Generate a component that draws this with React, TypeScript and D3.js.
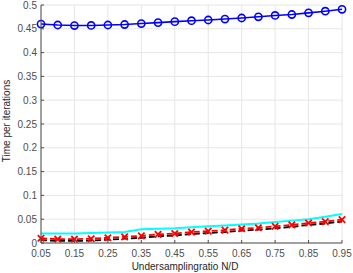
import React from "react";
import * as d3 from "d3";

const ratios = [0.05, 0.1, 0.15, 0.2, 0.25, 0.3, 0.35, 0.4, 0.45, 0.5, 0.55, 0.6, 0.65, 0.7, 0.75, 0.8, 0.85, 0.9, 0.95];
const blueSeries = [0.460, 0.458, 0.4568, 0.457, 0.458, 0.459, 0.461, 0.463, 0.465, 0.467, 0.4685, 0.4705, 0.4727, 0.4752, 0.478, 0.480, 0.4835, 0.487, 0.491];
const cyanSeries = [0.020, 0.020, 0.020, 0.021, 0.022, 0.023, 0.029, 0.030, 0.031, 0.033, 0.035, 0.037, 0.039, 0.041, 0.044, 0.047, 0.050, 0.055, 0.061];
const redSeries = [0.010, 0.008, 0.008, 0.009, 0.011, 0.013, 0.015, 0.018, 0.020, 0.023, 0.025, 0.027, 0.030, 0.032, 0.035, 0.038, 0.042, 0.045, 0.049];
const blackSeries = [0.006, 0.0045, 0.0045, 0.005, 0.007, 0.009, 0.011, 0.014, 0.016, 0.019, 0.021, 0.023, 0.026, 0.028, 0.031, 0.034, 0.038, 0.041, 0.045];
const xTicks = [0.05, 0.15, 0.25, 0.35, 0.45, 0.55, 0.65, 0.75, 0.85, 0.95];
const yTicks = [0, 0.05, 0.1, 0.15, 0.2, 0.25, 0.3, 0.35, 0.4, 0.45, 0.5];

export default function App() {
  const W = 353, H = 273;
  const x = d3.scaleLinear().domain([0.05, 0.95]).range([41, 342]);
  const y = d3.scaleLinear().domain([0, 0.5]).range([243, 5]);
  const line = (vals: number[]) =>
    d3.line<number>().x((_, i) => x(ratios[i])).y((v) => y(v))(vals) || "";
  const font = "Liberation Sans, Arial, Helvetica, sans-serif";
  const axisColor = "#4d4d4d";
  const gridColor = "#e6e6e6";
  return (
    <svg width={W} height={H} style={{ position: "absolute", left: 0, top: 0 }} fontFamily={font}>
      <rect x={0} y={0} width={W} height={H} fill="#fff" />
      {/* grid */}
      {yTicks.map((t) => (
        <line key={"gy" + t} x1={x(0.05)} x2={x(0.95)} y1={y(t)} y2={y(t)} stroke={gridColor} strokeWidth={1} />
      ))}
      {xTicks.map((t) => (
        <line key={"gx" + t} x1={x(t)} x2={x(t)} y1={y(0)} y2={y(0.5)} stroke={gridColor} strokeWidth={1} />
      ))}
      {/* series */}
      <path d={line(cyanSeries)} fill="none" stroke="#00ffff" strokeWidth={2} />
      <path d={line(blackSeries)} fill="none" stroke="#000" strokeWidth={1.8} strokeDasharray="6,3" />
      <path d={line(redSeries)} fill="none" stroke="#ff0000" strokeWidth={1.8} strokeDasharray="6,3" />
      {redSeries.map((v, i) => {
        const cx = x(ratios[i]), cy = y(v), s = 3.2;
        return (
          <g key={"rx" + i} stroke="#ff0000" strokeWidth={1.8}>
            <line x1={cx - s} y1={cy - s} x2={cx + s} y2={cy + s} />
            <line x1={cx - s} y1={cy + s} x2={cx + s} y2={cy - s} />
          </g>
        );
      })}
      <path d={line(blueSeries)} fill="none" stroke="#0000ff" strokeWidth={1.6} />
      {blueSeries.map((v, i) => (
        <circle key={"bc" + i} cx={x(ratios[i])} cy={y(v)} r={3.6} fill="none" stroke="#0000ff" strokeWidth={1.6} />
      ))}
      {/* axes */}
      <line x1={x(0.05)} x2={x(0.05)} y1={y(0)} y2={y(0.5)} stroke={axisColor} strokeWidth={1} />
      <line x1={x(0.05)} x2={x(0.95)} y1={y(0)} y2={y(0)} stroke={axisColor} strokeWidth={1} />
      {yTicks.map((t) => (
        <g key={"ty" + t}>
          <line x1={x(0.05)} x2={x(0.05) + 3} y1={y(t)} y2={y(t)} stroke={axisColor} />
          <text x={x(0.05) - 4} y={y(t)} dy="0.35em" textAnchor="end" fontSize={10} fill={axisColor}>
            {t === 0 ? "0" : String(t)}
          </text>
        </g>
      ))}
      {xTicks.map((t) => (
        <g key={"tx" + t}>
          <line x1={x(t)} x2={x(t)} y1={y(0)} y2={y(0) - 3} stroke={axisColor} />
          <text x={x(t)} y={257} textAnchor="middle" fontSize={10} fill={axisColor}>
            {t.toFixed(2)}
          </text>
        </g>
      ))}
      <text x={185} y={270} textAnchor="middle" fontSize={10} fill="#262626">
        Undersamplingratio N/D
      </text>
      <text transform={`translate(10,121) rotate(-90)`} textAnchor="middle" fontSize={10} fill="#262626">
        Time per iterations
      </text>
    </svg>
  );
}
